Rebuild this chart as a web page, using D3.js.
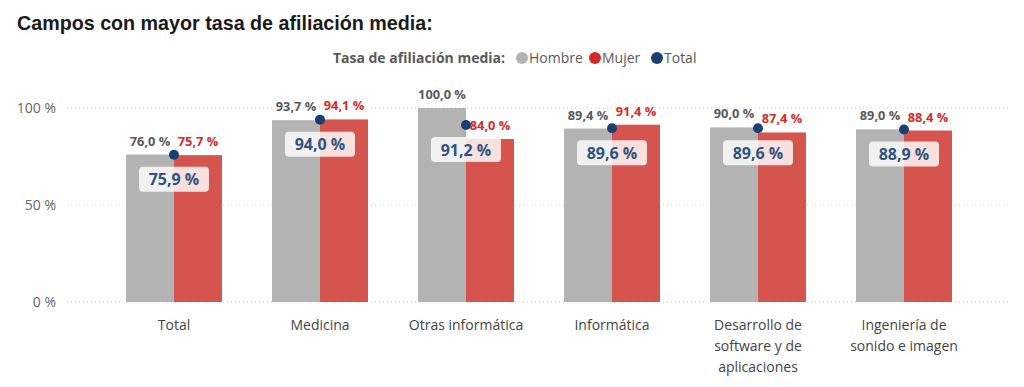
<!DOCTYPE html>
<html>
<head>
<meta charset="utf-8">
<script src="https://cdn.jsdelivr.net/npm/d3@7"></script>
<style>
  body { margin: 0; background: #fff; }
  svg { display: block; }
</style>
</head>
<body>
<svg id="chart" width="1024" height="387"></svg>
<script>
// data
var categories = ['Total', 'Medicina', 'Otras informática', 'Informática',
  'Desarrollo de software y de aplicaciones', 'Ingeniería de sonido e imagen'];
var tickLines = [['Total'], ['Medicina'], ['Otras informática'], ['Informática'],
  ['Desarrollo de', 'software y de', 'aplicaciones'], ['Ingeniería de', 'sonido e imagen']];
var hombre = [76.0, 93.7, 100.0, 89.4, 90.0, 89.0];
var mujer = [75.7, 94.1, 84.0, 91.4, 87.4, 88.4];
var total = [75.9, 94.0, 91.2, 89.6, 89.6, 88.9];
var yTicks = [0, 50, 100];
var legendItems = ['Hombre', 'Mujer', 'Total'];

var colHombre = '#b3b3b3', colMujer = '#d5554e', colTotal = '#1b3f73';
var txtMujer = '#d42b26', txtGray = '#595959', txtTotal = '#2f5380';
var font = '"Open Sans", sans-serif';

var svg = d3.select('#chart');
var fmt = function(v){ return d3.format('.1f')(v).replace('.', ',') + ' %'; };

var x = d3.scaleBand().domain(categories).range([101, 977]).padding(0);
var y = d3.scaleLinear().domain([0, 100]).range([302, 108]);
var barW = 48;

// title
svg.append('text')
  .attr('x', 17).attr('y', 30)
  .attr('font-family', '"Liberation Sans", Arial, sans-serif')
  .attr('font-size', 19.7).attr('font-weight', 'bold')
  .attr('fill', '#1a1a1a')
  .text('Campos con mayor tasa de afiliación media:');

// legend
var lg = svg.append('g').attr('font-family', font).attr('font-size', 14);
lg.append('text').attr('x', 505).attr('y', 63).attr('text-anchor', 'end')
  .attr('font-weight', 'bold').attr('fill', txtGray)
  .text('Tasa de afiliación media:');
var legX = [522, 595, 657];
var legC = [colHombre, '#d42b26', colTotal];
legendItems.forEach(function(d, i){
  lg.append('circle').attr('cx', legX[i]).attr('cy', 58).attr('r', 6).attr('fill', legC[i]);
  lg.append('text').attr('x', legX[i] + 7).attr('y', 63).attr('fill', txtGray).text(d);
});

// grid + y axis
var yAxis = d3.axisLeft(y).tickValues(yTicks).tickSize(0).tickPadding(0)
  .tickFormat(function(d){ return d + ' %'; });
var ga = svg.append('g').attr('transform', 'translate(56,0)').call(yAxis);
ga.select('.domain').remove();
ga.selectAll('text').attr('font-family', font).attr('font-size', 14).attr('fill', '#666');

svg.append('g').selectAll('line').data(yTicks).join('line')
  .attr('x1', 67).attr('x2', 1010)
  .attr('y1', function(d){ return y(d); }).attr('y2', function(d){ return y(d); })
  .attr('stroke', '#c8c8c8').attr('stroke-width', 1).attr('stroke-dasharray', '1,3');

// x axis labels
var xAxis = d3.axisBottom(x).tickSize(0).tickPadding(0);
var gx = svg.append('g').attr('transform', 'translate(0,310)').call(xAxis);
gx.select('.domain').remove();
gx.selectAll('.tick text').each(function(d, i){
  var t = d3.select(this).text(null).attr('y', 0).attr('dy', null)
    .attr('font-family', font).attr('font-size', 14).attr('fill', '#444');
  tickLines[i].forEach(function(line, k){
    t.append('tspan').attr('x', 0).attr('y', 20 + k * 21).text(line);
  });
});

var center = function(i){ return x(categories[i]) + x.bandwidth() / 2; };

// bars
svg.append('g').selectAll('rect').data(hombre).join('rect')
  .attr('x', function(d, i){ return center(i) - barW; })
  .attr('y', function(d){ return y(d); })
  .attr('width', barW).attr('height', function(d){ return y(0) - y(d); })
  .attr('fill', colHombre);
svg.append('g').selectAll('rect').data(mujer).join('rect')
  .attr('x', function(d, i){ return center(i); })
  .attr('y', function(d){ return y(d); })
  .attr('width', barW).attr('height', function(d){ return y(0) - y(d); })
  .attr('fill', colMujer);

// bar labels
var lab = svg.append('g').attr('font-family', font).attr('font-size', 12.8)
  .attr('font-weight', 'bold').attr('text-anchor', 'middle');
lab.selectAll('text.h').data(hombre).join('text').attr('class', 'h')
  .attr('x', function(d, i){ return center(i) - barW / 2; })
  .attr('y', function(d){ return y(d) - 9; })
  .attr('fill', txtGray).text(fmt);
lab.selectAll('text.m').data(mujer).join('text').attr('class', 'm')
  .attr('x', function(d, i){ return center(i) + barW / 2; })
  .attr('y', function(d){ return y(d) - 9; })
  .attr('fill', txtMujer).text(fmt);

// total dots + label boxes
var tg = svg.append('g');
total.forEach(function(d, i){
  var cx = center(i), cy = y(d);
  tg.append('rect').attr('x', cx - 35).attr('y', cy + 12).attr('width', 70).attr('height', 25)
    .attr('rx', 4).attr('fill', '#fff').attr('fill-opacity', 0.82);
  tg.append('text').attr('x', cx).attr('y', cy + 30.5).attr('text-anchor', 'middle')
    .attr('font-family', font).attr('font-size', 16).attr('font-weight', 'bold')
    .attr('fill', txtTotal).text(fmt(d));
  tg.append('circle').attr('cx', cx).attr('cy', cy).attr('r', 5).attr('fill', colTotal);
});
</script>
</body>
</html>
